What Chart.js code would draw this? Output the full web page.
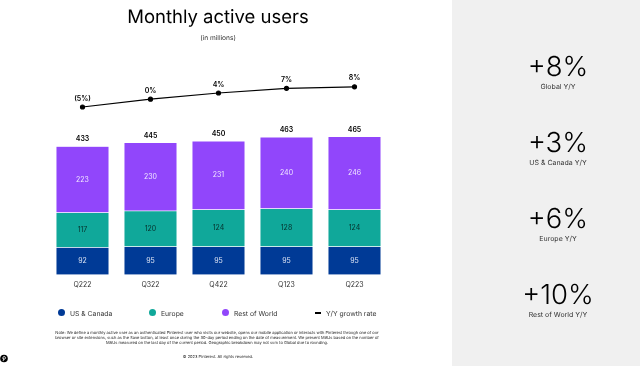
<!DOCTYPE html>
<html>
<head>
<meta charset="utf-8">
<script src="https://cdn.jsdelivr.net/npm/chart.js@4"></script>
<style>
  html, body { margin: 0; padding: 0; background: #fff; }
  #page { position: relative; width: 640px; height: 366px; overflow: hidden; font-family: Inter, sans-serif; color: #111; text-rendering: geometricPrecision; }
  #panel { position: absolute; left: 452px; top: 0; width: 188px; height: 366px; background: #f0f0f0; }
  #grafik { position: absolute; left: 0; top: 0; }
  .t { position: absolute; transform: translate(-50%, -50%); white-space: nowrap; text-align: center; }
  .big { font-size: 27.5px; font-weight: 300; color: #000; }
  .small { font-size: 7px; color: #333; }
  .leg { position: absolute; top: 312.5px; transform: translateY(-50%); font-size: 6.8px; color: #333; white-space: nowrap; }
  .dot { position: absolute; top: 309px; width: 7px; height: 7px; border-radius: 50%; }
  .dash { position: absolute; top: 312px; width: 6px; height: 1.5px; background: #000; }
</style>
</head>
<body>
<div id="page">
  <div id="panel"></div>
  <canvas id="grafik" width="640" height="366"></canvas>

  <div class="t" style="left:218px;top:17px;font-size:18.5px;font-weight:400;color:#000">Monthly active users</div>
  <div class="t" style="left:218px;top:38px;font-size:6.6px;color:#333">(in millions)</div>

  <div class="dot" style="left:58px;background:#003a96"></div>
  <div class="leg" style="left:70px">US &amp; Canada</div>
  <div class="dot" style="left:149px;background:#10a89a"></div>
  <div class="leg" style="left:161px">Europe</div>
  <div class="dot" style="left:222px;background:#9146fb"></div>
  <div class="leg" style="left:234px">Rest of World</div>
  <div class="dash" style="left:315px"></div>
  <div class="leg" style="left:326px">Y/Y growth rate</div>

  <div class="t" style="left:217px;top:336.5px;font-size:4px;line-height:5px;color:#222">
    Note: We define a monthly active user as an authenticated Pinterest user who visits our website, opens our mobile application or interacts with Pinterest through one of our<br>
    browser or site extensions, such as the Save button, at least once during the 30-day period ending on the date of measurement. We present MAUs based on the number of<br>
    MAUs measured on the last day of the current period. Geographic breakdown may not sum to Global due to rounding.
  </div>
  <div class="t" style="left:218px;top:356px;font-size:4px;color:#222">© 2023 Pinterest. All rights reserved.</div>

  <svg style="position:absolute;left:0;top:354px" width="8" height="9" viewBox="0 0 8 8">
    <circle cx="4" cy="4" r="3.8" fill="#000"/>
    <path d="M3.1 6.6 L4 3 M3 4.4 C2.3 3 3.2 2 4.3 2 C5.6 2 5.9 3.3 5.2 4.3 C4.7 4.9 4 4.8 3.8 4.4" stroke="#fff" stroke-width="0.8" fill="none"/>
  </svg>

  <div class="t big" style="left:558px;top:66px">+8%</div>
  <div class="t small" style="left:558px;top:86px">Global Y/Y</div>
  <div class="t big" style="left:558px;top:142px">+3%</div>
  <div class="t small" style="left:558px;top:162px">US &amp; Canada Y/Y</div>
  <div class="t big" style="left:558px;top:218px">+6%</div>
  <div class="t small" style="left:558px;top:238px">Europe Y/Y</div>
  <div class="t big" style="left:558px;top:294px">+10%</div>
  <div class="t small" style="left:558px;top:313.5px">Rest of World Y/Y</div>
</div>

<script>
const kuartal = ['Q222', 'Q322', 'Q422', 'Q123', 'Q223'];
const usCanada = [92, 95, 95, 95, 95];
const europe = [117, 120, 124, 128, 124];
const restOfWorld = [223, 230, 231, 240, 246];
const total = [433, 445, 450, 463, 465];
const growth = [-5, 0, 4, 7, 8];
const growthLabels = ['(5%)', '0%', '4%', '7%', '8%'];

// no datalabels plugin here, so the value labels get drawn by hand
const labelPlugin = {
  id: 'labelNilai',
  afterDatasetsDraw(chart) {
    const ctx = chart.ctx;
    ctx.save();
    ctx.textAlign = 'center';
    ctx.textBaseline = 'middle';
    ctx.font = '7px Inter';
    [0, 1, 2].forEach(function (i) {
      const ds = chart.data.datasets[i];
      chart.getDatasetMeta(i).data.forEach(function (bar, j) {
        ctx.fillStyle = ds.labelColor;
        ctx.fillText(ds.data[j], bar.x, (bar.y + bar.base) / 2);
      });
    });
    ctx.font = '600 7px Inter';
    ctx.fillStyle = '#000';
    chart.getDatasetMeta(2).data.forEach(function (bar, j) {
      ctx.fillText(total[j], bar.x, bar.y - 7);
    });
    chart.getDatasetMeta(3).data.forEach(function (pt, j) {
      ctx.fillText(growthLabels[j], pt.x, pt.y - 8.5);
    });
    ctx.restore();
  }
};

new Chart(document.getElementById('grafik'), {
  type: 'bar',
  data: {
    labels: kuartal,
    datasets: [
      { label: 'US & Canada', data: usCanada, backgroundColor: '#003a96', labelColor: '#dfe6f5', yAxisID: 'y', order: 2 },
      { label: 'Europe', data: europe, backgroundColor: '#10a89a', labelColor: '#06302c', yAxisID: 'y', order: 2 },
      { label: 'Rest of World', data: restOfWorld, backgroundColor: '#9146fb', labelColor: '#f0e6ff', yAxisID: 'y', order: 2 },
      {
        type: 'line',
        label: 'Y/Y growth rate',
        data: growth,
        yAxisID: 'y2',
        borderColor: '#000',
        backgroundColor: '#000',
        borderWidth: 1.2,
        pointRadius: 2,
        tension: 0,
        clip: false,
        order: 1
      }
    ]
  },
  options: {
    responsive: false,
    animation: false,
    layout: { padding: { left: 48.5, right: 251.5, top: 66.6, bottom: 71 } },
    datasets: {
      bar: {
        categoryPercentage: 1,
        barPercentage: 0.78,
        borderWidth: 0.5,
        borderColor: 'rgba(255, 255, 255, 0.35)'
      }
    },
    scales: {
      x: {
        stacked: true,
        grid: { display: false, drawTicks: false },
        border: { display: false },
        ticks: { color: '#333', font: { family: 'Inter', size: 7 }, padding: 6, maxRotation: 0 },
        afterFit(scale) { scale.height = 20.3; }
      },
      y: { stacked: true, display: false, min: 0, max: 700 },
      y2: { display: false, min: -113, max: 21 }
    },
    plugins: { legend: { display: false }, tooltip: { enabled: false } }
  },
  plugins: [labelPlugin]
});
</script>
</body>
</html>
